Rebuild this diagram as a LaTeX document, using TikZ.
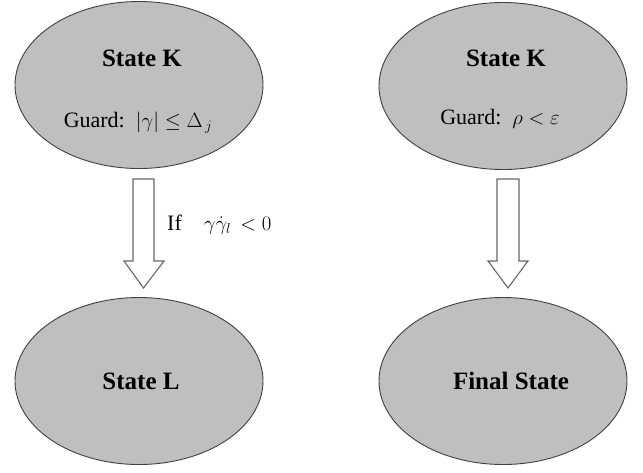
\documentclass[tikz,border=0pt]{standalone}
\usepackage{fontspec}
\setmainfont{Liberation Serif}
\usetikzlibrary{shapes.geometric}
\begin{document}
\begin{tikzpicture}[x=1pt,y=-1pt,
  stateshape/.style={ellipse, draw=black!75, line width=0.9pt, fill=black!25, minimum width=248pt, minimum height=167pt, inner sep=0pt},
  titletxt/.style={font=\fontsize{25}{28}\selectfont\bfseries, inner sep=0pt},
  guardtxt/.style={font=\fontsize{22}{26}\selectfont, inner sep=0pt},
  blockarrow/.style={draw=black!60, line width=1.1pt, fill=white, line join=miter}]
\useasboundingbox (0,0) rectangle (643,472);
\node[stateshape] (k1) at (139,85) {};
\node[stateshape] (k2) at (503,86) {};
\node[stateshape] (l) at (139,381) {};
\node[stateshape] (f) at (503,381) {};
\node[titletxt] (k1t) at (142,58) {State K};
\node[titletxt] (k2t) at (506,58) {State K};
\node[guardtxt] (k1g) at (138,123) {Guard:\, $|\gamma|\le\Delta_{\,j}$};
\node[guardtxt] (k2g) at (500,119) {Guard:\, $\rho<\varepsilon$};
\node[titletxt] (lt) at (141,381) {State L};
\node[titletxt] (ft) at (511,381) {Final State};
% left block arrow
\coordinate (a1) at (143.5,179);
\draw[blockarrow] (133,179) -- (154,179) -- (154,261) -- (164,261) -- (143.5,288) -- (124,261) -- (133,261) -- cycle;
% right block arrow
\coordinate (a2) at (508,179);
\draw[blockarrow] (497,179) -- (519,179) -- (519,261) -- (528,261) -- (508,288) -- (488,261) -- (497,261) -- cycle;
\node[guardtxt, anchor=west] (cond) at (167,225) {If\quad $\gamma\dot{\gamma}_{l}\,<0$};
\end{tikzpicture}
\end{document}
